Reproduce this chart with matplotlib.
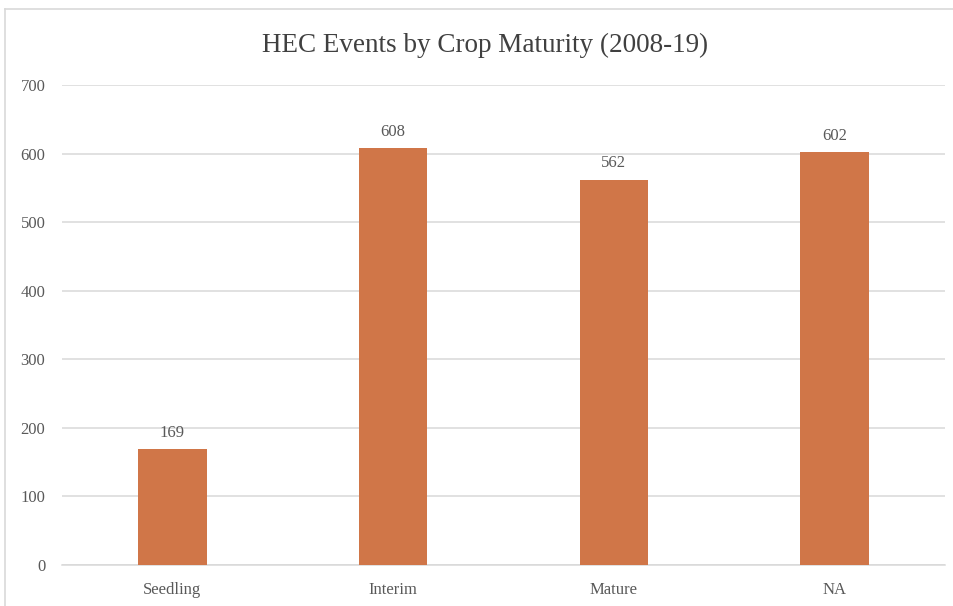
import matplotlib
matplotlib.use("Agg")
import matplotlib.pyplot as plt
from matplotlib.lines import Line2D

categories = ["Seedling", "Interim", "Mature", "NA"]
events = [169, 608, 562, 602]
y_ticks = [0, 100, 200, 300, 400, 500, 600, 700]

bar_color = "#D07648"
text_color = "#595959"
grid_color = "#D9D9D9"
serif = ["Liberation Serif", "DejaVu Serif"]

fig = plt.figure(figsize=(9.54, 6.06), dpi=100)
ax = fig.add_axes([62 / 954, 1 - 565 / 606, 883 / 954, 480 / 606])

x = range(len(categories))
bars = ax.bar(x, events, width=0.31, color=bar_color, zorder=3)
ax.set_xlim(-0.5, len(categories) - 0.5)
ax.set_ylim(0, 700)
ax.set_yticks(y_ticks)
ax.set_xticks(list(x))
ax.set_xticklabels(categories)
ax.yaxis.grid(True, color=grid_color, linewidth=1.1, zorder=0)
for s in ["top", "right", "left"]:
    ax.spines[s].set_visible(False)
ax.spines["bottom"].set_color(grid_color)
ax.spines["bottom"].set_linewidth(1.1)
ax.tick_params(axis="both", length=0, labelsize=12, colors=text_color)
ax.tick_params(axis="x", pad=12)
ax.tick_params(axis="y", pad=12)
for lab in ax.get_xticklabels() + ax.get_yticklabels():
    lab.set_fontfamily(serif)

for rect, v in zip(bars, events):
    ax.annotate(str(v), (rect.get_x() + rect.get_width() / 2, v),
                xytext=(0, 6), textcoords="offset points", ha="center",
                va="bottom", fontsize=12, color=text_color, family=serif)

fig.text(485 / 954, 1 - 45 / 606, "HEC Events by Crop Maturity (2008-19)",
         ha="center", va="center", fontsize=19.5, color="#404040", family=serif)

# light frame along the top and left edges
fig.add_artist(Line2D([5 / 954, 1], [1 - 9 / 606, 1 - 9 / 606],
                      transform=fig.transFigure, color=grid_color, lw=1.2))
fig.add_artist(Line2D([5 / 954, 5 / 954], [0, 1 - 9 / 606],
                      transform=fig.transFigure, color=grid_color, lw=1.2))

fig.savefig("out.png", dpi=100)
